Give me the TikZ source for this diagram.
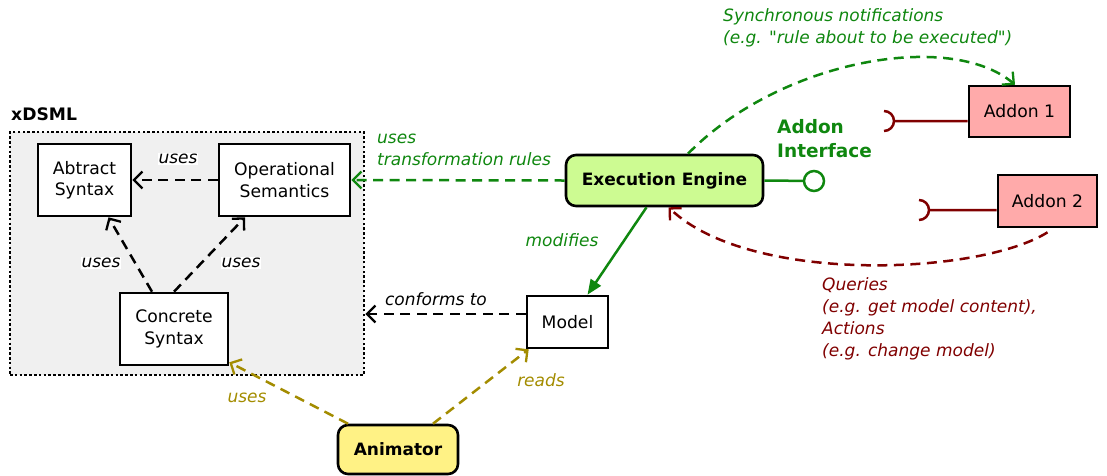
\documentclass[tikz,border=0pt]{standalone}
\usepackage{fontspec}
\setmainfont{DejaVu Sans}
\usetikzlibrary{arrows.meta}
\definecolor{GreenInk}{HTML}{0F870F}
\definecolor{RedInk}{HTML}{800000}
\definecolor{OliveInk}{HTML}{A38C00}
\definecolor{EngineFill}{HTML}{CDFB92}
\definecolor{AddonFill}{HTML}{FFAAAA}
\definecolor{AnimFill}{HTML}{FFF285}
\definecolor{Panel}{HTML}{F0F0F0}

\begin{document}
\begin{tikzpicture}[x=1pt,y=-1pt,
  txt/.style={font=\fontsize{17.2}{21.5}\selectfont},
  lab/.style={font=\fontsize{17}{22}\selectfont\itshape,inner sep=1pt,align=left},
  box/.style={draw,line width=2.6pt,fill=white,align=center,inner sep=0pt,txt},
  engine/.style={box,rounded corners=10pt,font=\fontsize{17}{21.5}\selectfont\bfseries},
  conn/.style={line width=2.5pt,dash pattern=on 10pt off 6.5pt,-{Straight Barb[length=8.5pt,width=17pt,line width=2.3pt]}},
  socket/.style={RedInk,line width=2.5pt}]
\useasboundingbox (0,0) rectangle (1107,475);

% xDSML panel
\node[draw,line width=2.6pt,dash pattern=on 2.5pt off 2.3pt,fill=Panel,inner sep=0pt,
  minimum width=354pt,minimum height=243pt] (xdsml) at (187,253.5) {};
\node[anchor=west,inner sep=0pt,font=\fontsize{17.2}{20}\selectfont\bfseries] (title) at (11,114) {xDSML};

\node[box,minimum width=93pt,minimum height=72pt] (abstract) at (84.5,180) {Abtract\\Syntax};
\node[box,minimum width=131pt,minimum height=72pt] (opsem) at (284.5,180) {Operational\\Semantics};
\node[box,minimum width=108pt,minimum height=72pt] (concrete) at (174,329) {Concrete\\Syntax};

% other parts
\node[box,minimum width=81pt,minimum height=52pt] (model) at (567.5,322) {Model};
\node[engine,fill=EngineFill,minimum width=197pt,minimum height=51pt] (engine) at (664.5,180.5) {Execution Engine};
\node[engine,fill=AnimFill,minimum width=120pt,minimum height=49pt] (animator) at (398,449.5) {Animator};
\node[box,fill=AddonFill,minimum width=101pt,minimum height=51pt] (addon1) at (1019.5,111.5) {Addon 1};
\node[box,fill=AddonFill,minimum width=99pt,minimum height=52pt] (addon2) at (1047.5,201) {Addon 2};
\node[circle,draw=GreenInk,line width=2.5pt,fill=white,minimum size=20pt,inner sep=0pt] (iface) at (814,181) {};

% inside xDSML
\draw[conn] (opsem.west) -- (abstract.east);
\draw[conn] ([xshift=-22pt]concrete.north) -- ([xshift=24pt]abstract.south);
\draw[conn] (concrete.north) -- ([xshift=-39.5pt]opsem.south);
\node[lab,fill=white] (usesA) at (178,159) {uses};
\node[lab,fill=white] (usesB) at (101,263) {uses};
\node[lab,fill=white] (usesC) at (241,263) {uses};

% engine
\draw[conn,GreenInk] (engine.west) -- (opsem.east);
\node[lab,text=GreenInk,anchor=west] (usesT) at (376,150) {uses\\transformation rules};
\draw[GreenInk,line width=2.5pt,-{Triangle[length=15pt,width=12pt]}] ([xshift=-18pt]engine.south) -- ([xshift=20pt]model.north);
\node[lab,text=GreenInk] (modifies) at (562,240) {modifies};
\draw[GreenInk,line width=2.5pt] (engine.east) -- (iface);
\node[anchor=west,align=left,text=GreenInk,inner sep=0pt,font=\fontsize{18.5}{24}\selectfont\bfseries] (ifacelabel) at (777,139) {Addon\\Interface};

% addons
\draw[conn,GreenInk] ([xshift=23.5pt]engine.north) .. controls (780,60) and (950,30) .. ([xshift=-4.5pt]addon1.north);
\node[lab,text=GreenInk,anchor=west] (sync) at (722,28) {Synchronous notifications\\(e.g. \textquotedbl rule about to be executed\textquotedbl)};
\coordinate (sock1) at (894,121);
\draw[socket] (addon1.west |- sock1) -- (sock1) arc[start angle=0,end angle=90,radius=10pt]
  (sock1) arc[start angle=0,end angle=-90,radius=10pt];
\coordinate (sock2) at (929,210);
\draw[socket] (addon2.west |- sock2) -- (sock2) arc[start angle=0,end angle=90,radius=10pt]
  (sock2) arc[start angle=0,end angle=-90,radius=10pt];
\draw[conn,RedInk] ([yshift=-4pt]addon2.south) .. controls (980,275) and (750,285) .. ([xshift=4pt]engine.south);
\node[lab,text=RedInk,anchor=west] (queries) at (821,319) {Queries\\(e.g. get model content),\\Actions\\(e.g. change model)};

% model
\draw[conn] ([yshift=8pt]model.west) -- ([yshift=8pt]model.west -| xdsml.east);
\node[lab] (conforms) at (436,299) {conforms to};

% animator
\draw[conn,OliveInk] ([xshift=-50pt]animator.north) -- ([yshift=4pt]concrete.south east);
\draw[conn,OliveInk] ([xshift=35pt]animator.north) -- ([xshift=3pt]model.south west);
\node[lab,text=OliveInk] (usesD) at (247,398) {uses};
\node[lab,text=OliveInk] (reads) at (541,380) {reads};
\end{tikzpicture}
\end{document}
